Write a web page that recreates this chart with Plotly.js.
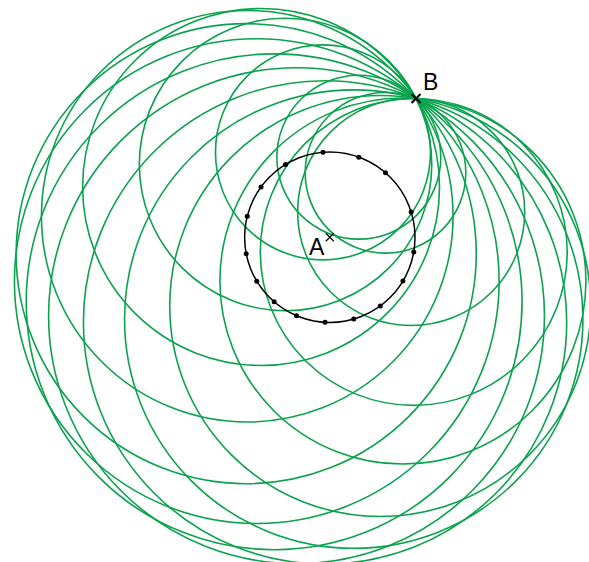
<!DOCTYPE html>
<html>
<head>
<meta charset="utf-8">
<script src="https://cdn.plot.ly/plotly-3.0.1.min.js"></script>
<style>html,body{margin:0;padding:0;background:#fff;}#chart{width:589px;height:562px;}</style>
</head>
<body>
<div id="chart"></div>
<script>
// Centre A of the base circle and its radius
const pointA = [0, 0];
const baseRadius = 1;
// Fixed point B through which every green circle passes
const pointB = [1.012, 1.629];
// Angular positions (degrees) of the centres on the base circle
const centreAngles = [94.6, 70.1, 49.2, 17.3, -9.9, -30.9, -53.7, -73.7, -93.2, -113.0, -130.8, -149.0, -168.9, 165.7, 143.8, 121.3];
const labels = ["A", "B"];

const green = "#0ba24e";
const cx = centreAngles.map(a => pointA[0] + baseRadius * Math.cos(a * Math.PI / 180));
const cy = centreAngles.map(a => pointA[1] + baseRadius * Math.sin(a * Math.PI / 180));

const shapes = [];
cx.forEach((x, i) => {
  const y = cy[i];
  const R = Math.hypot(pointB[0] - x, pointB[1] - y);
  shapes.push({type: "circle", xref: "x", yref: "y", x0: x - R, x1: x + R, y0: y - R, y1: y + R,
    line: {color: green, width: 1.6}, layer: "below"});
});
shapes.push({type: "circle", xref: "x", yref: "y",
  x0: pointA[0] - baseRadius, x1: pointA[0] + baseRadius, y0: pointA[1] - baseRadius, y1: pointA[1] + baseRadius,
  line: {color: "#000", width: 1.5}, layer: "below"});

const traces = [
  {x: cx, y: cy, mode: "markers", type: "scatter", marker: {color: "#000", size: 5}, hoverinfo: "skip"},
  {x: [pointA[0]], y: [pointA[1]], mode: "markers", type: "scatter",
    marker: {symbol: "x-thin", size: 8, line: {color: "#000", width: 1.2}}, hoverinfo: "skip"},
  {x: [pointB[0]], y: [pointB[1]], mode: "markers", type: "scatter",
    marker: {symbol: "x-thin", size: 9, line: {color: "#000", width: 2}}, hoverinfo: "skip"}
];

const layout = {
  width: 589, height: 562,
  margin: {l: 0, r: 0, t: 0, b: 0},
  paper_bgcolor: "#fff", plot_bgcolor: "#fff",
  showlegend: false,
  xaxis: {range: [-3.871, 3.042], visible: false, fixedrange: true},
  yaxis: {range: [-3.811, 2.785], visible: false, fixedrange: true},
  shapes: shapes,
  annotations: [
    {x: pointA[0], y: pointA[1], xref: "x", yref: "y", text: labels[0], showarrow: false,
      xshift: -13, yshift: -10, font: {family: "Liberation Sans, Arial, sans-serif", size: 23, color: "#000"}},
    {x: pointB[0], y: pointB[1], xref: "x", yref: "y", text: labels[1], showarrow: false,
      xshift: 14, yshift: 16, font: {family: "Liberation Sans, Arial, sans-serif", size: 23, color: "#000"}}
  ]
};
Plotly.newPlot("chart", traces, layout, {displayModeBar: false, staticPlot: true});
</script>
</body>
</html>
